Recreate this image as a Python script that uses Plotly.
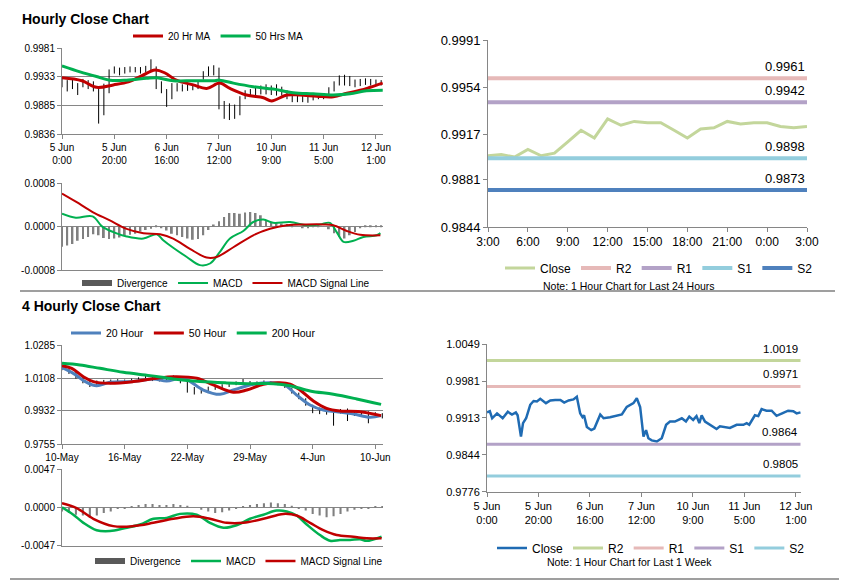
import plotly.graph_objects as go

FONT = "Liberation Sans, Arial, sans-serif"
W, H = 847, 583          # size of the picture
PAGE_MARGIN = 8          # the page body margin shifts the figure by 8 px
FW, FH = W - PAGE_MARGIN, H - PAGE_MARGIN
GRID = "#868686"

# ---------------- Hourly close chart (x = hourly bar index from 5 Jun 0:00)
hour_ticks = [0, 20, 40, 60, 80, 100, 120]
hour_labels = ["5 Jun<br>0:00", "5 Jun<br>20:00", "6 Jun<br>16:00", "7 Jun<br>12:00",
               "10 Jun<br>9:00", "11 Jun<br>5:00", "12 Jun<br>1:00"]
hourly_price_ticks = [0.9836, 0.9885, 0.9933, 0.9981]

hourly_bar_x = list(range(0, 123, 2))
hourly_high = [0.9929, 0.9927, 0.9928, 0.9922, 0.9929, 0.9927, 0.9925, 0.9916, 0.9921, 0.9945,
               0.9950, 0.9948, 0.9949, 0.9950, 0.9949, 0.9949, 0.9951, 0.9962, 0.9950, 0.9925,
               0.9912, 0.9922, 0.9922, 0.9920, 0.9920, 0.9921, 0.9924, 0.9942, 0.9950, 0.9952,
               0.9948, 0.9892, 0.9888, 0.9886, 0.9900, 0.9910, 0.9912, 0.9915, 0.9918, 0.9920,
               0.9918, 0.9920, 0.9916, 0.9910, 0.9905, 0.9902, 0.9901, 0.9900, 0.9903, 0.9905,
               0.9905, 0.9915, 0.9925, 0.9935, 0.9936, 0.9934, 0.9928, 0.9929, 0.9930, 0.9929,
               0.9928, 0.9927]
hourly_low = [0.9915, 0.9908, 0.9912, 0.9902, 0.9915, 0.9912, 0.9908, 0.9854, 0.9868, 0.9905,
              0.9938, 0.9935, 0.9938, 0.9940, 0.9940, 0.9938, 0.9940, 0.9942, 0.9912, 0.9905,
              0.9882, 0.9895, 0.9908, 0.9908, 0.9909, 0.9910, 0.9912, 0.9928, 0.9934, 0.9935,
              0.9878, 0.9862, 0.9860, 0.9862, 0.9868, 0.9895, 0.9899, 0.9901, 0.9903, 0.9903,
              0.9902, 0.9901, 0.9901, 0.9895, 0.9890, 0.9890, 0.9890, 0.9889, 0.9893, 0.9895,
              0.9895, 0.9900, 0.9908, 0.9918, 0.9918, 0.9917, 0.9915, 0.9917, 0.9919, 0.9918,
              0.9917, 0.9918]

ma20_x = [0, 7.6, 13.2, 19.6, 25.4, 30.4, 35.6, 39.4, 43.7, 50.1, 55.3, 60.3, 64.2, 70.5,
          77.0, 80.1, 85.9, 90.9, 97.4, 103.7, 108.9, 114.0, 117.8, 122.6]
ma20_y = [0.9931, 0.9926, 0.9915, 0.9919, 0.9924, 0.9934, 0.9944, 0.9939, 0.9927, 0.9919,
          0.9913, 0.9922, 0.9913, 0.9902, 0.98975, 0.9892, 0.9902, 0.9902, 0.9900, 0.9899,
          0.9905, 0.9910, 0.9915, 0.9922]
ma50_x = [0, 6.9, 13.2, 18.3, 24.7, 32.3, 36.2, 42.5, 50.1, 57.8, 60.3, 65.5, 73.1, 80.7,
          88.4, 96.0, 103.7, 110.1, 116.4, 122.6]
ma50_y = [0.9951, 0.9941, 0.9933, 0.9927, 0.9927, 0.9930, 0.9931, 0.9926, 0.9926, 0.9926,
          0.9927, 0.9922, 0.9916, 0.9912, 0.9906, 0.9904, 0.9902, 0.9904, 0.9909, 0.9910]

macd_h_ticks = [-0.0008, 0.0, 0.0008]
macd_h_x = [0, 5.3, 11.7, 15.4, 19.6, 24.7, 31.1, 36.2, 38.7, 42.5, 47.7, 52.7, 56.6, 60.3,
            64.2, 69.3, 73.1, 77.0, 80.7, 87.2, 93.5, 98.6, 102.4, 105.0, 107.6, 111.4,
            115.2, 120.3, 121.7]
macd_h_y = [0.00024, 0.000166, 0.00019, 0.0, -0.0001, -0.00018, -0.00022, -0.00014, -0.00025,
            -0.00039, -0.00056, -0.00071, -0.00068, -0.00047, -0.00022, -0.00008, 0.000086,
            0.00013, 0.00007, 0.000086, 0.000025, 0.00004, 0.00007, -0.0001, -0.00028,
            -0.00026, -0.00019, -0.00016, -0.00012]
signal_h_x = [0, 5.3, 11.7, 18.1, 24.7, 31.1, 37.5, 42.5, 48.9, 55.3, 59.1, 65.5, 73.1, 79.5,
              85.9, 93.5, 99.9, 103.7, 108.9, 114.0, 121.7]
signal_h_y = [0.00061, 0.00046, 0.00027, 0.00012, -0.00004, -0.00012, -0.00014, -0.00022,
              -0.00041, -0.00057, -0.00056, -0.00038, -0.00016, -0.00004, 0.000025, 0.00004,
              0.00004, 0.000025, -0.00008, -0.00015, -0.00016]
divergence_h = [-0.00037, -0.00035, -0.00032, -0.00026, -0.00023, -0.00019, -0.00014, -0.00016,
                -0.00021, -0.00023, -0.00022, -0.00020, -0.00017, -0.00015, -0.00013, -0.00009,
                -0.00006, -0.00004, 0.00002, -0.00003, -0.00007, -0.00013, -0.00016, -0.00019,
                -0.00022, -0.00024, -0.00023, -0.00016, -0.00006, 0.00004, 0.00010, 0.00018,
                0.00025, 0.00025, 0.00024, 0.00026, 0.00027, 0.00025, 0.00021, 0.00012,
                0.00009, 0.00007, 0.00006, 0.00005, 0.00003, 0.00000, -0.00002, -0.00002,
                -0.00001, 0.00001, 0.00000, -0.00005, -0.00012, -0.00019, -0.00022, -0.00016,
                -0.00010, -0.00002, 0.00001, 0.00002, 0.00002, 0.00002]

# ---------------- Last 24 hours
day_hours = list(range(25))
day_tick_x = [0, 3, 6, 9, 12, 15, 18, 21, 24]
day_tick_labels = ["3:00", "6:00", "9:00", "12:00", "15:00", "18:00", "21:00", "0:00", "3:00"]
day_price_ticks = [0.9844, 0.9881, 0.9917, 0.9954, 0.9991]
day_close = [0.9900, 0.9901, 0.9899, 0.9905, 0.9900, 0.9902, 0.9911, 0.9920, 0.9914, 0.9929,
             0.9924, 0.9927, 0.9926, 0.9926, 0.9920, 0.9914, 0.9921, 0.9922, 0.9927, 0.9925,
             0.9926, 0.9926, 0.9923, 0.9922, 0.9923]
day_level_names = ["R2", "R1", "S1", "S2"]
day_levels = [0.9961, 0.9942, 0.9898, 0.9873]

# ---------------- 4 hourly close chart (x = 4-hour bar index from 10 May)
four_ticks = [0, 36, 72, 108, 144, 180]
four_labels = ["10-May", "16-May", "22-May", "29-May", "4-Jun", "10-Jun"]
four_price_ticks = [0.9755, 0.9932, 1.0108, 1.0285]

four_bar_x = list(range(0, 185, 4))
four_high = [1.0170, 1.0158, 1.0140, 1.0115, 1.0098, 1.0095, 1.0098, 1.0100, 1.0102, 1.0100,
             1.0105, 1.0112, 1.0120, 1.0118, 1.0110, 1.0115, 1.0122, 1.0110, 1.0090, 1.0060,
             1.0055, 1.0062, 1.0070, 1.0075, 1.0085, 1.0090, 1.0103, 1.0092, 1.0090, 1.0095,
             1.0092, 1.0085, 1.0075, 1.0055, 1.0030, 1.0000, 0.9965, 0.9950, 0.9945, 0.9940,
             0.9942, 0.9945, 0.9935, 0.9932, 0.9930, 0.9925, 0.9920]
four_low = [1.0150, 1.0130, 1.0105, 1.0080, 1.0060, 1.0068, 1.0072, 1.0075, 1.0078, 1.0080,
            1.0085, 1.0088, 1.0095, 1.0092, 1.0090, 1.0088, 1.0095, 1.0080, 1.0030, 1.0020,
            1.0025, 1.0035, 1.0045, 1.0055, 1.0060, 1.0070, 1.0072, 1.0075, 1.0075, 1.0078,
            1.0078, 1.0070, 1.0055, 1.0025, 0.9995, 0.9960, 0.9920, 0.9915, 0.9912, 0.9853,
            0.9918, 0.9878, 0.9905, 0.9910, 0.9866, 0.9895, 0.9892]

ma20h_x = [0, 6.5, 14.2, 19.9, 27.6, 41, 52.5, 60.1, 69.7, 81.2, 90.8, 98.4, 110, 119.5,
           127.2, 134.8, 142.5, 150.1, 157.8, 167.4, 176.9, 183.3]
ma20h_y = [1.0164, 1.0133, 1.0085, 1.0067, 1.0085, 1.0089, 1.0103, 1.0092, 1.0107, 1.0044,
           1.0021, 1.0044, 1.0075, 1.0083, 1.0075, 1.0017, 0.9964, 0.9937, 0.9928, 0.9916,
           0.9898, 0.9907]
ma50h_x = [0, 5.6, 12.3, 18, 27.6, 41, 54.4, 64, 77.4, 86.9, 98.4, 106.1, 115.7, 125.2, 131,
           136.7, 144.4, 152, 159.7, 171.2, 183.3]
ma50h_y = [1.0174, 1.0160, 1.0115, 1.0089, 1.0080, 1.0089, 1.0107, 1.0115, 1.0107, 1.0071,
           1.0032, 1.0044, 1.0075, 1.0083, 1.0075, 1.0044, 0.9985, 0.9946, 0.9932, 0.9928, 0.9907]
ma200h_x = [0, 10.3, 21.8, 35.2, 50.6, 64, 79.3, 94.6, 110, 121.4, 131, 142.5, 155.9, 169.3, 183.3]
ma200h_y = [1.0187, 1.0178, 1.0160, 1.0139, 1.0121, 1.0103, 1.0089, 1.0082, 1.0078, 1.0078,
            1.0067, 1.0039, 1.0021, 0.9996, 0.9967]

macd_4_ticks = [-0.0047, 0.0, 0.0047]
macd_4_x = [0, 6.5, 12.3, 19.9, 27.6, 35.2, 44.8, 52.5, 60.1, 67.8, 77.4, 85, 92.7, 100.3,
            108, 115.7, 123.3, 129.1, 134.8, 140.6, 148.2, 154, 159.7, 165.5, 171.2, 175, 183.6]
macd_4_y = [0.0, -0.0009, -0.0019, -0.0028, -0.0029, -0.0026, -0.0021, -0.0014, -0.0013,
            -0.0008, -0.0009, -0.0019, -0.0025, -0.0022, -0.0014, -0.0009, -0.0004, -0.0005,
            -0.0010, -0.0021, -0.0034, -0.0041, -0.0040, -0.0040, -0.0039, -0.0041, -0.0036]
signal_4_x = [0, 8.4, 18, 29.5, 41, 52.5, 64, 75.5, 85, 94.6, 104.2, 115.7, 127.2, 134.8,
              142.5, 150.1, 157.8, 167.4, 175, 183.6]
signal_4_y = [0.0005, -0.0001, -0.0014, -0.0023, -0.0023, -0.0019, -0.0014, -0.0011, -0.0014,
              -0.0019, -0.0019, -0.0014, -0.0008, -0.0010, -0.0019, -0.0028, -0.0034, -0.0036,
              -0.0038, -0.0038]
divergence_4 = [-0.0005, -0.0007, -0.0009, -0.0010, -0.0011, -0.0010, -0.0007, -0.0005, -0.0002,
                -0.0001, 0.0001, 0.0003, 0.0004, 0.0004, 0.0003, 0.0003, 0.0004, 0.0003, 0.0002,
                0.0000, -0.0003, -0.0005, -0.0007, -0.0006, -0.0004, -0.0002, 0.0001, 0.0003,
                0.0004, 0.0005, 0.0006, 0.0005, 0.0004, 0.0002, -0.0001, -0.0004, -0.0008,
                -0.0010, -0.0012, -0.0011, -0.0008, -0.0005, -0.0003, -0.0002, -0.0001, 0.0001,
                0.0001]

# ---------------- Last 1 week (hourly)
week_price_ticks = [0.9776, 0.9844, 0.9913, 0.9981, 1.0049]
week_x = [0, 1.1, 2.0, 3.9, 6.1, 8.1, 9.7, 11.2, 11.9, 13.2, 14.0, 15.2, 16.8, 18.1, 19.4,
          20.7, 22.9, 24.6, 26.5, 28.5, 30.0, 31.7, 33.6, 34.9, 36.2, 37.1, 37.7, 38.8, 40.5,
          41.7, 44.0, 45.3, 47.8, 50.5, 52.4, 54.3, 56.9, 58.2, 59.5, 60.8, 61.8, 62.7, 64.0,
          66.0, 67.9, 69.6, 71.1, 73.0, 75.7, 77.3, 78.6, 80.1, 81.4, 82.5, 83.4, 84.7, 86.7,
          89.2, 90.5, 94.4, 97.0, 99.6, 100.9, 101.9, 104.1, 105.4, 106.7, 108.6, 110.6, 112.5,
          115.1, 117.0, 119.0, 120.3, 121.8]
week_close = [0.9923, 0.9925, 0.9912, 0.9921, 0.9912, 0.9924, 0.9919, 0.9923, 0.99175, 0.9878,
              0.9903, 0.9912, 0.9937, 0.9944, 0.9943, 0.9948, 0.9940, 0.9945, 0.9946, 0.9946,
              0.9941, 0.9945, 0.9947, 0.9952, 0.9921, 0.9914, 0.99175, 0.9896, 0.9890, 0.9893,
              0.9919, 0.9912, 0.9914, 0.99175, 0.9919, 0.9933, 0.9940, 0.9949, 0.9933, 0.9878,
              0.9890, 0.9875, 0.9871, 0.9869, 0.9875, 0.9900, 0.9906, 0.9906, 0.9912, 0.9906,
              0.9915, 0.9909, 0.9916, 0.9903, 0.99175, 0.9906, 0.9900, 0.9892, 0.9897, 0.9894,
              0.9900, 0.9900, 0.9903, 0.9900, 0.99175, 0.9916, 0.9929, 0.9926, 0.9926, 0.99165,
              0.9922, 0.9926, 0.9925, 0.9921, 0.9923]
week_level_names = ["R2", "R1", "S1", "S2"]
week_levels = [1.0019, 0.9971, 0.9864, 0.9805]

RED, GREEN, BLUE = "#C00000", "#00B050", "#4F81BD"
PALE_GREEN, PINK, LILAC, SKY = "#C3D69B", "#E6B9B8", "#B3A2C7", "#93CDDD"


def hl_segments(xs, lows, highs):
    px, py = [], []
    for x, lo, hi in zip(xs, lows, highs):
        px += [x, x, None]
        py += [lo, hi, None]
    return px, py


# page pixel -> paper fraction
def fx(p):
    return (p - PAGE_MARGIN) / FW


def fy(p):
    return 1 - (p - PAGE_MARGIN) / FH


def xdom(a, b):
    return [fx(a), fx(b)]


def ydom(top, bottom):
    return [fy(bottom), fy(top)]


fig = go.Figure()

# --- top left: hourly prices
bx, by = hl_segments(hourly_bar_x, hourly_low, hourly_high)
fig.add_trace(go.Scatter(x=bx, y=by, mode="lines", line=dict(color="black", width=1),
                         showlegend=False, xaxis="x", yaxis="y"))
fig.add_trace(go.Scatter(x=ma20_x, y=ma20_y, mode="lines", name="20 Hr MA", line=dict(color=RED, width=3),
                         line_shape="spline", xaxis="x", yaxis="y", legend="legend"))
fig.add_trace(go.Scatter(x=ma50_x, y=ma50_y, mode="lines", name="50 Hrs MA", line=dict(color=GREEN, width=3),
                         line_shape="spline", xaxis="x", yaxis="y", legend="legend"))

# --- top left: hourly MACD
fig.add_trace(go.Bar(x=hourly_bar_x, y=divergence_h, width=0.7, marker_color="#808080",
                     marker_line_width=0, showlegend=False, xaxis="x2", yaxis="y2"))
fig.add_trace(go.Scatter(x=[None], y=[None], mode="lines", name="Divergence",
                         line=dict(color="#595959", width=6), xaxis="x2", yaxis="y2", legend="legend2"))
fig.add_trace(go.Scatter(x=macd_h_x, y=macd_h_y, mode="lines", name="MACD", line=dict(color=GREEN, width=2),
                         line_shape="spline", xaxis="x2", yaxis="y2", legend="legend2"))
fig.add_trace(go.Scatter(x=signal_h_x, y=signal_h_y, mode="lines", name="MACD Signal Line",
                         line=dict(color=RED, width=2), line_shape="spline", xaxis="x2", yaxis="y2",
                         legend="legend2"))

# --- top right: last 24 hours
fig.add_trace(go.Scatter(x=day_hours, y=day_close, mode="lines", name="Close",
                         line=dict(color=PALE_GREEN, width=3), xaxis="x3", yaxis="y3", legend="legend3"))
for name, lvl, col in zip(day_level_names, day_levels, [PINK, LILAC, SKY, BLUE]):
    fig.add_trace(go.Scatter(x=[day_hours[0], day_hours[-1]], y=[lvl, lvl], mode="lines", name=name,
                             line=dict(color=col, width=4), xaxis="x3", yaxis="y3", legend="legend3"))

# --- bottom left: 4 hourly prices
bx, by = hl_segments(four_bar_x, four_low, four_high)
fig.add_trace(go.Scatter(x=bx, y=by, mode="lines", line=dict(color="black", width=1),
                         showlegend=False, xaxis="x4", yaxis="y4"))
fig.add_trace(go.Scatter(x=ma20h_x, y=ma20h_y, mode="lines", name="20 Hour", line=dict(color=BLUE, width=3),
                         line_shape="spline", xaxis="x4", yaxis="y4", legend="legend4"))
fig.add_trace(go.Scatter(x=ma50h_x, y=ma50h_y, mode="lines", name="50 Hour", line=dict(color=RED, width=3),
                         line_shape="spline", xaxis="x4", yaxis="y4", legend="legend4"))
fig.add_trace(go.Scatter(x=ma200h_x, y=ma200h_y, mode="lines", name="200 Hour", line=dict(color=GREEN, width=3),
                         line_shape="spline", xaxis="x4", yaxis="y4", legend="legend4"))

# --- bottom left: 4 hourly MACD
fig.add_trace(go.Bar(x=four_bar_x, y=divergence_4, width=1.2, marker_color="#808080",
                     marker_line_width=0, showlegend=False, xaxis="x5", yaxis="y5"))
fig.add_trace(go.Scatter(x=[None], y=[None], mode="lines", name="Divergence",
                         line=dict(color="#595959", width=6), xaxis="x5", yaxis="y5", legend="legend5"))
fig.add_trace(go.Scatter(x=macd_4_x, y=macd_4_y, mode="lines", name="MACD", line=dict(color=GREEN, width=2.5),
                         line_shape="spline", xaxis="x5", yaxis="y5", legend="legend5"))
fig.add_trace(go.Scatter(x=signal_4_x, y=signal_4_y, mode="lines", name="MACD Signal Line",
                         line=dict(color=RED, width=2.5), line_shape="spline", xaxis="x5", yaxis="y5",
                         legend="legend5"))

# --- bottom right: last week
fig.add_trace(go.Scatter(x=week_x, y=week_close, mode="lines", name="Close",
                         line=dict(color="#1F6BB3", width=2.5), xaxis="x6", yaxis="y6", legend="legend6"))
for name, lvl, col in zip(week_level_names, week_levels, [PALE_GREEN, PINK, LILAC, SKY]):
    fig.add_trace(go.Scatter(x=[week_x[0], week_x[-1]], y=[lvl, lvl], mode="lines", name=name,
                             line=dict(color=col, width=3), xaxis="x6", yaxis="y6", legend="legend6"))


def yaxis(domain, anchor, ticks, fmt, grid, size):
    return dict(domain=domain, anchor=anchor, range=[ticks[0], ticks[-1]], tickvals=ticks,
                ticktext=[fmt.format(t) for t in ticks], showgrid=grid, gridcolor=GRID,
                showline=True, linecolor=GRID, ticks="outside", ticklen=4, tickcolor=GRID,
                zeroline=False, automargin=False, tickfont=dict(size=size, color="black"),
                fixedrange=True)


def xaxis(domain, anchor, rng, tickvals, ticktext, size):
    return dict(domain=domain, anchor=anchor, range=rng, tickvals=tickvals, ticktext=ticktext,
                showticklabels=bool(ticktext), showgrid=False, showline=True, linecolor=GRID,
                ticks="outside" if ticktext else "", ticklen=4, tickcolor=GRID, zeroline=False,
                automargin=False, tickangle=0, tickfont=dict(size=size, color="black"),
                fixedrange=True)


def legend(x, y, size):
    return dict(orientation="h", x=fx(x), y=fy(y), xanchor="left", yanchor="middle",
                bgcolor="rgba(0,0,0,0)", font=dict(size=size, color="black", family=FONT),
                itemclick=False, itemdoubleclick=False, traceorder="normal")


annotations = [
    dict(text="<b>Hourly Close Chart</b>", x=fx(20), y=fy(8.5), font=dict(size=14)),
    dict(text="<b>4 Hourly Close Chart</b>", x=fx(20), y=fy(296), font=dict(size=14)),
]
for a in annotations:
    a.update(xref="paper", yref="paper", xanchor="left", yanchor="top", showarrow=False)

annotations += [
    dict(text="Note: 1 Hour Chart for Last 24 Hours", x=fx(629), y=fy(286), xref="paper", yref="paper",
         showarrow=False, font=dict(size=10.5), xanchor="center", yanchor="middle"),
    dict(text="Note: 1 Hour Chart for Last 1 Week", x=fx(629), y=fy(562), xref="paper", yref="paper",
         showarrow=False, font=dict(size=10.5), xanchor="center", yanchor="middle"),
]
for lvl in day_levels:
    annotations.append(dict(text="{:.4f}".format(lvl), x=day_hours[-1], y=lvl, xref="x3", yref="y3",
                            xanchor="right", yanchor="middle", yshift=12, showarrow=False,
                            font=dict(size=13)))
for lvl in week_levels:
    annotations.append(dict(text="{:.4f}".format(lvl), x=week_x[-1], y=lvl, xref="x6", yref="y6",
                            xanchor="right", yanchor="middle", yshift=12, showarrow=False,
                            font=dict(size=11.5)))

shapes = [
    dict(type="line", xref="paper", yref="paper", x0=fx(20), x1=fx(835), y0=fy(291), y1=fy(291),
         line=dict(color="#7F7F7F", width=1.5)),
    dict(type="line", xref="paper", yref="paper", x0=fx(10), x1=fx(845), y0=fy(579), y1=fy(579),
         line=dict(color="#7F7F7F", width=1.5)),
]

fig.update_layout(
    width=FW, height=FH, margin=dict(l=0, r=0, t=0, b=0, pad=0, autoexpand=False),
    paper_bgcolor="white", plot_bgcolor="white",
    font=dict(family=FONT, color="black"),
    hovermode=False,
    xaxis=xaxis(xdom(62, 383), "y", [0, 122.7], hour_ticks, hour_labels, 10),
    yaxis=yaxis(ydom(48, 134.3), "x", hourly_price_ticks, "{:.4f}", True, 10),
    xaxis2=xaxis(xdom(62, 383), "y2", [0, 122.7], hour_ticks, None, 10),
    yaxis2=yaxis(ydom(183.3, 270), "x2", macd_h_ticks, "{:.4f}", True, 10),
    xaxis3=xaxis(xdom(488, 807), "y3", [0, 24], day_tick_x, day_tick_labels, 12),
    yaxis3=yaxis(ydom(40, 227), "x3", day_price_ticks, "{:.4f}", False, 13),
    xaxis4=xaxis(xdom(62, 383), "y4", [0, 184.4], four_ticks, four_labels, 10),
    yaxis4=yaxis(ydom(345, 444), "x4", four_price_ticks, "{:.4f}", True, 10),
    xaxis5=xaxis(xdom(62, 383), "y5", [0, 184.4], four_ticks, None, 10),
    yaxis5=yaxis(ydom(469, 545.7), "x5", macd_4_ticks, "{:.4f}", True, 10),
    xaxis6=xaxis(xdom(487, 801), "y6", [0, 122], hour_ticks, hour_labels, 11),
    yaxis6=yaxis(ydom(344.3, 491.7), "x6", week_price_ticks, "{:.4f}", False, 11),
    legend=legend(128, 36, 10),
    legend2=legend(77, 283, 10),
    legend3=legend(500, 268, 12),
    legend4=legend(66, 333, 10.5),
    legend5=legend(90, 561, 10),
    legend6=legend(492, 548, 12),
    annotations=annotations,
    shapes=shapes,
)

fig.write_html("out.html")
